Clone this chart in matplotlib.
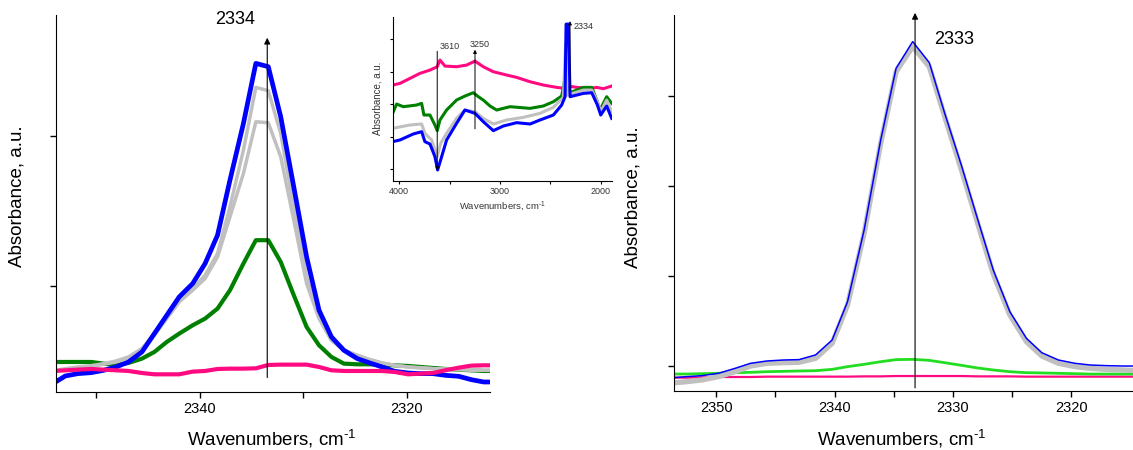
import matplotlib
matplotlib.use('Agg')
import matplotlib.pyplot as plt

plt.rcParams['font.family'] = ['Liberation Sans', 'DejaVu Sans']
plt.rcParams['mathtext.fontset'] = 'custom'
plt.rcParams['mathtext.rm'] = 'Liberation Sans'
plt.rcParams['mathtext.it'] = 'Liberation Sans:italic'

# left panel: CO2 band, step-wise adsorption
wn_left = [2354.2, 2353.0, 2351.8, 2350.5, 2349.3, 2348.1, 2346.9, 2345.6, 2344.4,
           2343.2, 2342.0, 2340.7, 2339.5, 2338.3, 2337.1, 2335.8, 2334.6, 2333.4,
           2332.2, 2331.0, 2329.7, 2328.5, 2327.3, 2326.1, 2324.8, 2323.6, 2322.4,
           2321.2, 2319.9, 2318.7, 2317.5, 2316.3, 2315.0, 2313.8, 2312.6, 2311.4]
blue_left = [0.158, 0.181, 0.188, 0.191, 0.198, 0.208, 0.223, 0.253, 0.308, 0.363, 0.418,
             0.458, 0.518, 0.603, 0.768, 0.938, 1.118, 1.108, 0.958, 0.758, 0.538, 0.378,
             0.298, 0.258, 0.233, 0.220, 0.208, 0.195, 0.190, 0.188, 0.188, 0.183, 0.180,
             0.170, 0.163, 0.163]
grey1_left = [0.193, 0.200, 0.205, 0.210, 0.216, 0.223, 0.236, 0.263, 0.308, 0.358, 0.408,
              0.443, 0.483, 0.548, 0.688, 0.858, 1.046, 1.036, 0.908, 0.698, 0.478, 0.358,
              0.288, 0.258, 0.243, 0.230, 0.220, 0.213, 0.208, 0.205, 0.203, 0.201, 0.200,
              0.198, 0.198, 0.198]
grey2_left = [0.196, 0.203, 0.208, 0.212, 0.218, 0.226, 0.238, 0.263, 0.303, 0.353, 0.403,
              0.438, 0.473, 0.538, 0.658, 0.788, 0.943, 0.940, 0.838, 0.658, 0.458, 0.353,
              0.288, 0.258, 0.243, 0.230, 0.220, 0.213, 0.208, 0.206, 0.203, 0.202, 0.201,
              0.200, 0.198, 0.198]
green_left = [0.223, 0.223, 0.223, 0.223, 0.218, 0.213, 0.220, 0.233, 0.253, 0.283, 0.308,
              0.333, 0.353, 0.383, 0.438, 0.518, 0.588, 0.588, 0.523, 0.428, 0.328, 0.273,
              0.238, 0.218, 0.216, 0.216, 0.215, 0.213, 0.211, 0.208, 0.205, 0.202, 0.200,
              0.198, 0.196, 0.196]
pink_left = [0.196, 0.198, 0.200, 0.202, 0.200, 0.198, 0.196, 0.190, 0.186, 0.186, 0.186,
             0.194, 0.196, 0.202, 0.203, 0.203, 0.204, 0.214, 0.215, 0.215, 0.215, 0.208,
             0.198, 0.196, 0.196, 0.196, 0.196, 0.193, 0.186, 0.188, 0.190, 0.198, 0.206,
             0.212, 0.213, 0.213]

# right panel
wn_right = [2353.9, 2352.5, 2351.2, 2349.8, 2348.4, 2347.1, 2345.7, 2344.3, 2343.0, 2341.6,
            2340.2, 2338.9, 2337.5, 2336.1, 2334.8, 2333.4, 2332.0, 2330.7, 2329.3, 2327.9,
            2326.6, 2325.2, 2323.8, 2322.5, 2321.1, 2319.7, 2318.4, 2317.0, 2315.6, 2314.3]
blue_right = [-0.137, -0.122, -0.111, -0.085, -0.030, 0.026, 0.052, 0.063, 0.067, 0.119,
              0.285, 0.711, 1.507, 2.507, 3.304, 3.600, 3.367, 2.804, 2.230, 1.619,
              1.063, 0.600, 0.304, 0.144, 0.063, 0.026, 0.007, 0.000, -0.004, -0.004]
grey_right = [-0.196, -0.178, -0.159, -0.122, -0.067, -0.004, 0.026, 0.033, 0.037, 0.081,
              0.248, 0.674, 1.470, 2.470, 3.267, 3.544, 3.322, 2.767, 2.181, 1.574,
              1.019, 0.563, 0.267, 0.107, 0.026, -0.011, -0.030, -0.041, -0.048, -0.056]
green_right = [-0.093, -0.093, -0.089, -0.085, -0.078, -0.074, -0.067, -0.063, -0.059, -0.056,
               -0.041, -0.011, 0.015, 0.044, 0.067, 0.070, 0.059, 0.033, 0.004, -0.026,
               -0.048, -0.067, -0.078, -0.081, -0.085, -0.089, -0.093, -0.093, -0.093, -0.093]
pink_right = [-0.133, -0.133, -0.130, -0.126, -0.126, -0.126, -0.122, -0.122, -0.122, -0.122,
              -0.122, -0.122, -0.119, -0.119, -0.115, -0.115, -0.115, -0.115, -0.115, -0.119,
              -0.119, -0.119, -0.122, -0.122, -0.122, -0.122, -0.122, -0.122, -0.122, -0.122]

# inset: full spectra
wn_ins_pink = [4066, 3993, 3894, 3795, 3695, 3623, 3596, 3546, 3431, 3331, 3248, 3166, 3066,
               2934, 2835, 2702, 2570, 2437, 2354, 2321, 2239, 2106, 2040, 1974, 1891]
ins_pink = [2.595, 2.646, 2.800, 2.954, 3.056, 3.159, 3.364, 3.179, 3.159, 3.210, 3.333, 3.159,
            3.005, 2.903, 2.831, 2.697, 2.595, 2.523, 2.492, 2.564, 2.523, 2.492, 2.523, 2.482, 2.564]
wn_ins_green = [4066, 4026, 3960, 3828, 3778, 3755, 3695, 3646, 3623, 3596, 3530, 3431, 3348,
                3265, 3215, 3166, 3099, 3033, 2901, 2702, 2570, 2470, 2388, 2354, 2321, 2172,
                2089, 2040, 2007, 1941, 1891]
ins_green = [1.723, 2.010, 1.928, 1.979, 2.031, 1.672, 1.672, 1.364, 1.190, 1.518, 1.826, 2.133,
             2.256, 2.359, 2.236, 2.133, 1.949, 1.826, 1.928, 1.877, 1.949, 2.082, 2.256, 2.800,
             2.338, 2.523, 2.523, 2.133, 1.826, 2.236, 2.031]
wn_ins_grey = [4066, 3894, 3778, 3745, 3679, 3623, 3589, 3530, 3431, 3348, 3248, 3166, 3066,
               2934, 2768, 2603, 2470, 2371, 2348, 2331, 2172, 2089, 2033, 2000, 1941, 1891]
ins_grey = [1.262, 1.364, 1.395, 1.108, 0.903, 0.390, 0.800, 1.108, 1.569, 1.826, 1.774, 1.569,
            1.395, 1.518, 1.600, 1.723, 1.908, 2.215, 3.877, 2.287, 2.441, 2.441, 2.082, 1.774,
            2.133, 1.774]
wn_ins_blue = [4066, 3993, 3861, 3778, 3745, 3695, 3646, 3619, 3589, 3530, 3431, 3348, 3248,
               3166, 3066, 2967, 2835, 2702, 2603, 2470, 2388, 2354, 2344, 2321, 2304, 2172,
               2089, 2033, 2000, 1941, 1891]
ins_blue = [0.851, 0.903, 1.087, 1.159, 0.851, 0.779, 0.390, -0.021, 0.287, 0.903, 1.415, 1.826,
            1.723, 1.467, 1.190, 1.333, 1.436, 1.395, 1.518, 1.672, 1.979, 2.236, 4.472, 4.472,
            2.236, 2.338, 2.359, 1.979, 1.672, 1.949, 1.569]

BLUE = '#0000FF'
GREY = '#C0C0C0'
GREEN = '#008000'
LIME = '#22DD22'
PINK = '#FF0A80'

XLABEL = r'Wavenumbers, cm$^{\text{-1}}$'

fig = plt.figure(figsize=(11.33, 4.5), dpi=100)


def style(ax, fs):
    ax.spines['top'].set_visible(False)
    ax.spines['right'].set_visible(False)
    ax.tick_params(which='both', direction='out', length=4, width=1, labelsize=fs)
    ax.set_yticklabels([])


# LEFT
ax1 = fig.add_axes([0.0494, 0.1289, 0.3830, 0.8378])
ax1.plot(wn_left, green_left, color=GREEN, lw=3.0)
ax1.plot(wn_left, grey2_left, color=GREY, lw=2.5)
ax1.plot(wn_left, grey1_left, color=GREY, lw=2.5)
ax1.plot(wn_left, blue_left, color=BLUE, lw=3.4)
ax1.plot(wn_left, pink_left, color=PINK, lw=3.0)
ax1.set_xlim(2353.9, 2312.0)
ax1.set_ylim(0.133, 1.263)
ax1.set_xticks([2340, 2320])
ax1.set_xticks([2350, 2330], minor=True)
ax1.set_yticks([0.45, 0.90])
style(ax1, 10.5)
ax1.annotate('', xy=(2333.5, 1.203), xytext=(2333.5, 0.168),
             arrowprops=dict(arrowstyle='-|>', lw=0.8, color='k', mutation_scale=9))
ax1.text(2336.6, 1.25, '2334', fontsize=13, ha='center', va='center')

# RIGHT
ax2 = fig.add_axes([0.5949, 0.1318, 0.4051, 0.8349])
ax2.plot(wn_right, pink_right, color=PINK, lw=1.6)
ax2.plot(wn_right, green_right, color=LIME, lw=2.0)
ax2.plot(wn_right, grey_right, color=GREY, lw=3.8)
ax2.plot(wn_right, blue_right, color=BLUE, lw=1.1)
ax2.set_xlim(2353.55, 2314.8)
ax2.set_ylim(-0.278, 3.896)
ax2.set_xticks([2350, 2340, 2330, 2320])
ax2.set_xticks([2345, 2335, 2325], minor=True)
ax2.set_yticks([0, 1, 2, 3])
style(ax2, 10.5)
ax2.annotate('', xy=(2333.2, 3.95), xytext=(2333.2, -0.278),
             arrowprops=dict(arrowstyle='-|>', lw=0.8, color='k', mutation_scale=9),
             annotation_clip=False)
ax2.text(2329.9, 3.62, '2333', fontsize=13, ha='center', va='center')

# INSET
ax3 = fig.add_axes([0.3466, 0.5978, 0.1933, 0.3651])
ax3.plot(wn_ins_pink, ins_pink, color=PINK, lw=2.2)
ax3.plot(wn_ins_green, ins_green, color=GREEN, lw=2.2)
ax3.plot(wn_ins_grey, ins_grey, color=GREY, lw=2.2)
ax3.plot(wn_ins_blue, ins_blue, color=BLUE, lw=2.2)
ax3.set_xlim(4065, 1891)
ax3.set_ylim(-0.36, 4.70)
ax3.set_xticks([4000, 3000, 2000])
ax3.set_xticks([3500, 2500], minor=True)
ax3.set_yticks([0, 1, 2, 3, 4])
ax3.patch.set_alpha(0)
for s in ['left', 'bottom']:
    ax3.spines[s].set_linewidth(0.8)
style(ax3, 6.5)
ax3.tick_params(which='both', length=2.5, width=0.8, labelcolor='#333333', pad=2)
ax3.set_xlabel(XLABEL, fontsize=6.8, color='#333333', labelpad=2)
ax3.set_ylabel('Absorbance, a.u.', fontsize=7, color='#333333', labelpad=3)
ax3.annotate('', xy=(3623, -0.12), xytext=(3623, 3.72),
             arrowprops=dict(arrowstyle='-|>', lw=0.7, color='k', mutation_scale=5))
ax3.annotate('', xy=(3248, 3.77), xytext=(3248, 1.16),
             arrowprops=dict(arrowstyle='-|>', lw=0.7, color='k', mutation_scale=5))
ax3.annotate('', xy=(2305, 4.65), xytext=(2305, 2.34),
             arrowprops=dict(arrowstyle='-|>', lw=0.7, color='k', mutation_scale=5),
             annotation_clip=False)
ax3.text(3596, 3.77, '3610', fontsize=6.5, color='#333333', ha='left', va='center')
ax3.text(3199, 3.83, '3250', fontsize=6.5, color='#333333', ha='center', va='center')
ax3.text(2265, 4.39, '2334', fontsize=6.5, color='#333333', ha='left', va='center')

# axis titles
fig.text(0.015, 0.564, 'Absorbance, a.u.', rotation=90, fontsize=13.5, ha='center', va='center')
fig.text(0.5587, 0.562, 'Absorbance, a.u.', rotation=90, fontsize=13.5, ha='center', va='center')
fig.text(0.240, 0.024, XLABEL, fontsize=13.5, ha='center', va='center')
fig.text(0.796, 0.024, XLABEL, fontsize=13.5, ha='center', va='center')

fig.savefig('out.png', dpi=100)
